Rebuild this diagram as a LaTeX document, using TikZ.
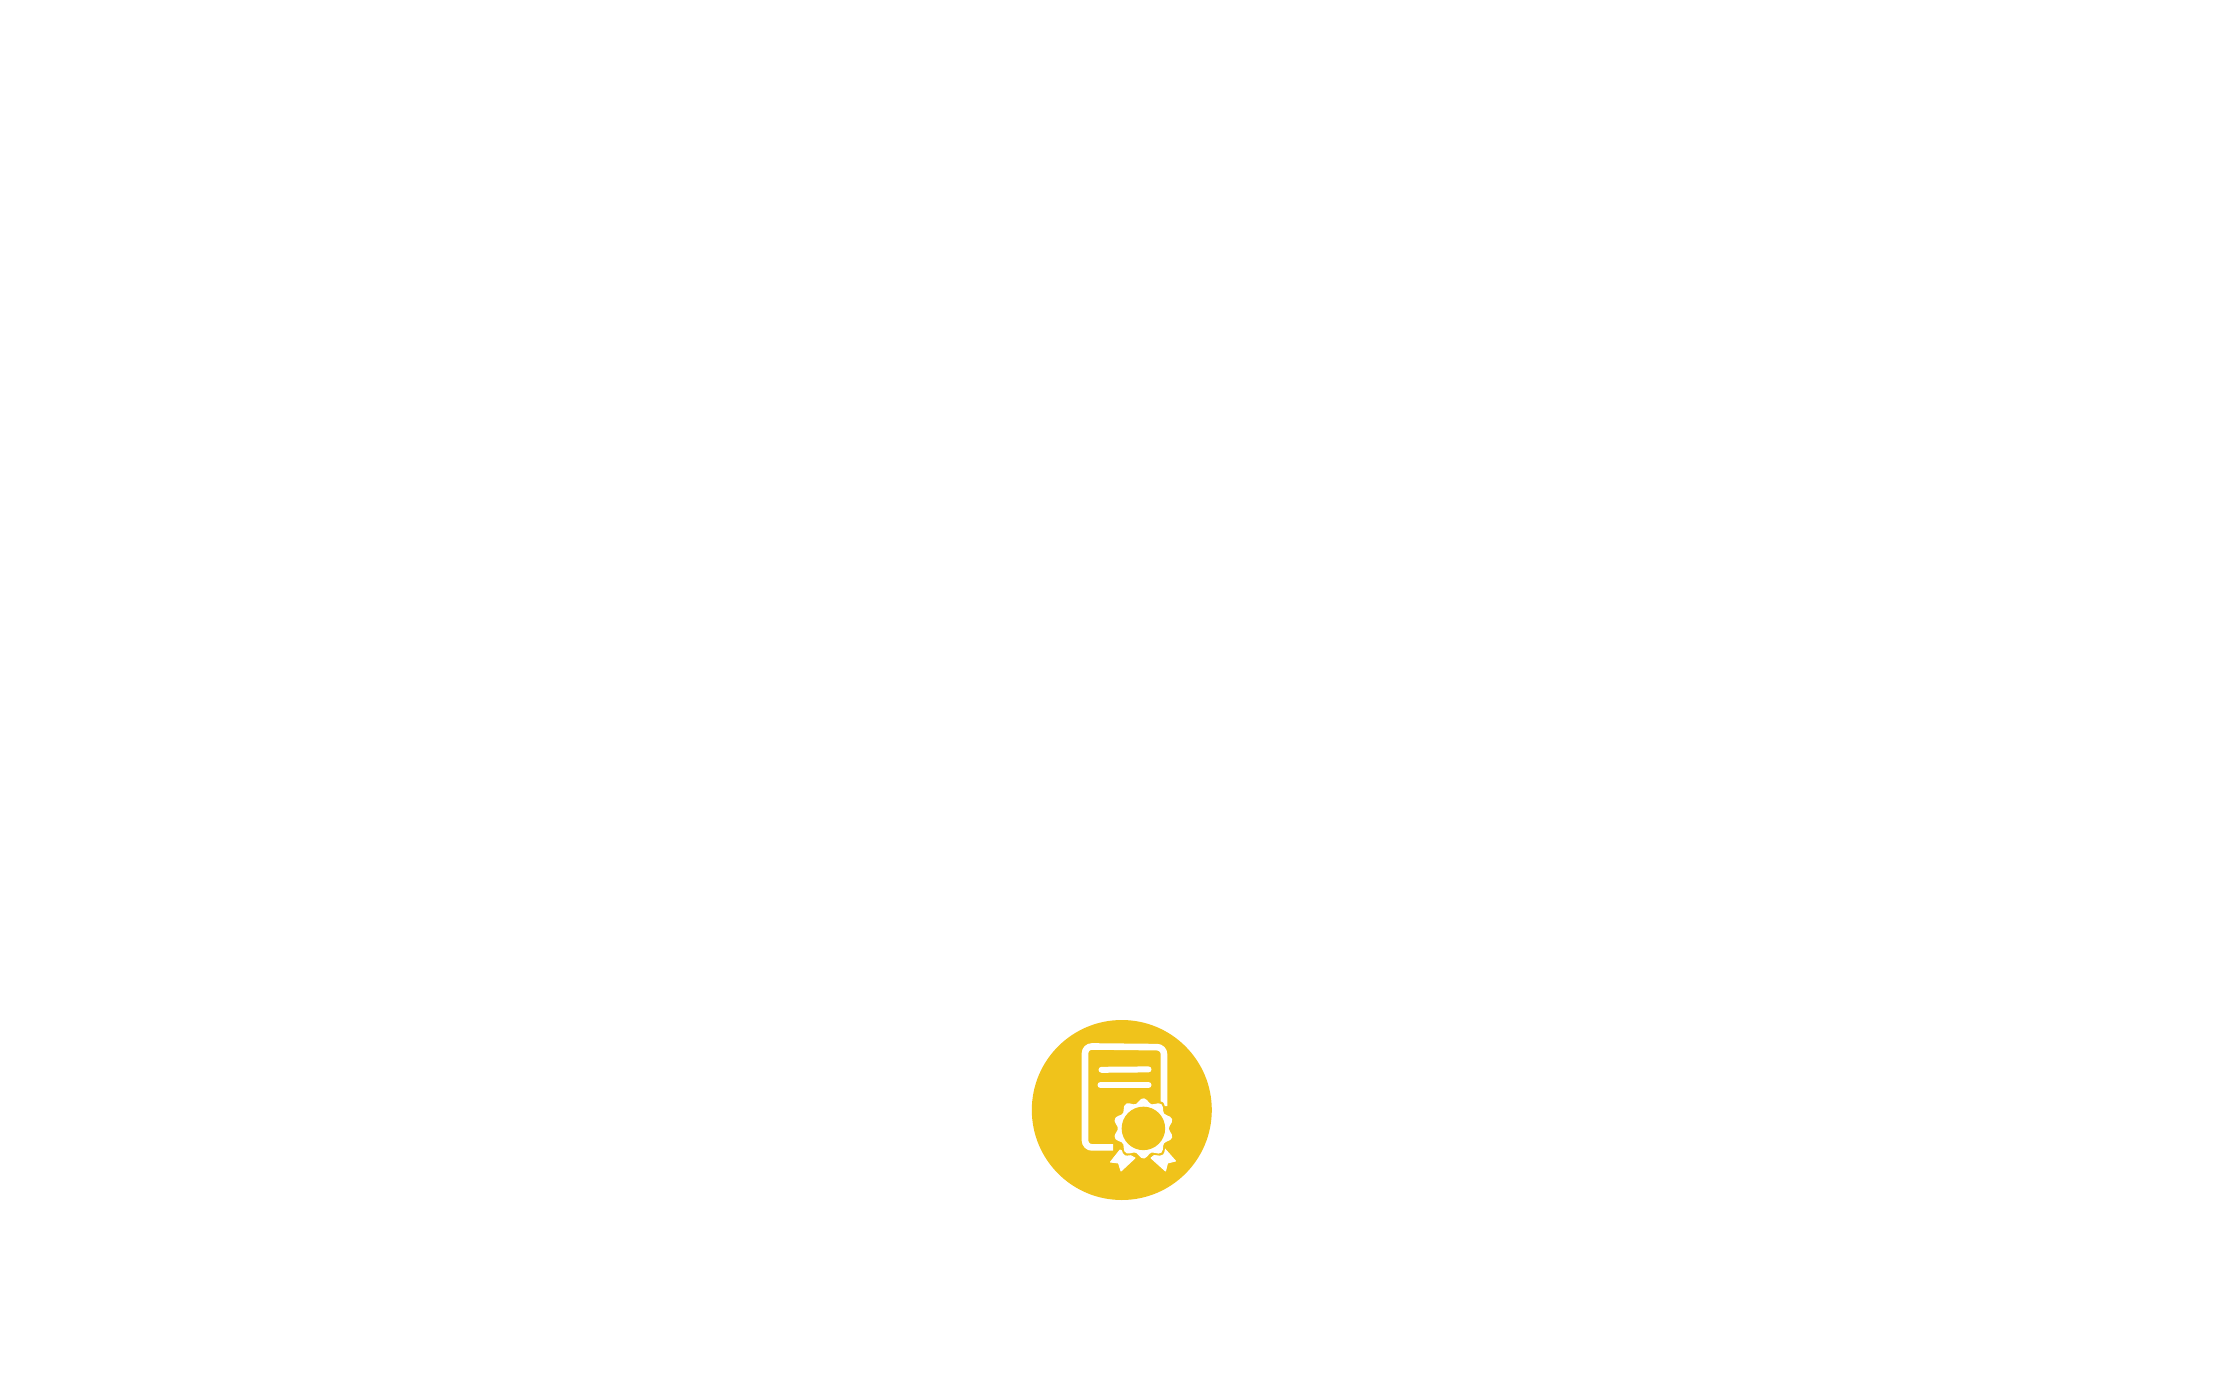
\documentclass[tikz,border=0pt]{standalone}
\usepackage{xcolor}
\usepackage{tikz}
\usetikzlibrary{calc, positioning}
\definecolor{sealyellow}{HTML}{F0C31B}
\tikzset{
    circlenode/.style = {circle, draw=none, fill=sealyellow, inner sep = 0em, minimum size=180pt},
    sealnode/.style = {circle, draw=none, fill=sealyellow, inner sep = 0em, minimum size=43.5pt},
    pageline/.style = {draw=white, line width=6.6pt, rounded corners=7pt},
    textline/.style = {draw=white, line width=6pt, line cap=round},
    ribbon/.style = {fill=white, draw=white, line width=1pt, line join=round}
}

\begin{document}
\begin{tikzpicture}[x=1pt, y=-1pt]
    \useasboundingbox (0,0) rectangle (2220,1380);

    \node [name=disc, circlenode] at (1121.8,1110) {};

    % page outline
    \draw [pageline] (1113,1147.4) -- (1085,1147.4) -- (1085,1046.4) -- (1164,1047.2) -- (1164,1106);
    \coordinate (pagetl) at (1101.5,1069.8);
    \coordinate (pagetr) at (1148.5,1069.4);
    \coordinate (pagebl) at (1100.5,1085);
    \coordinate (pagebr) at (1148.5,1085);
    \draw [textline] (pagetl) -- (pagetr);
    \draw [textline] (pagebl) -- (pagebr);

    % ribbons
    \coordinate (badge) at (1143.4,1128.4);
    \fill [ribbon] (1120,1150) -- (1110.5,1162) -- (1118.5,1163) -- (1121,1171) -- (1135,1158) -- cycle;
    \fill [ribbon] (1164,1148) -- (1175.5,1161) -- (1167.5,1163) -- (1165.5,1171) -- (1151,1158) -- cycle;

    % seal
    \fill [sealyellow, shift={(badge)}] plot [smooth cycle, samples=61, domain=0:354]
        ({(30.2+2.4*cos(10*(\x-90)))*cos(\x)}, {(30.2+2.4*cos(10*(\x-90)))*sin(\x)});
    \fill [white, shift={(badge)}] plot [smooth cycle, samples=61, domain=0:354]
        ({(27.8+2.4*cos(10*(\x-90)))*cos(\x)}, {(27.8+2.4*cos(10*(\x-90)))*sin(\x)});
    \node [name=sealcore, sealnode] at (badge) {};
\end{tikzpicture}
\end{document}
